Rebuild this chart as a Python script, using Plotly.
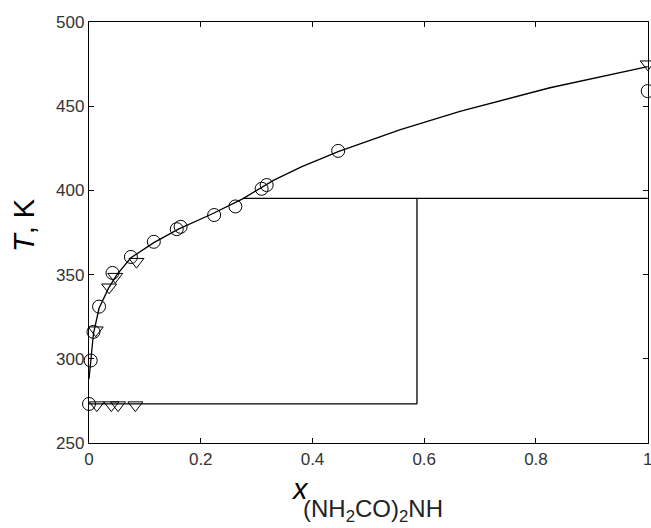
import plotly.graph_objects as go

# Liquidus curve
curve_x = [0.0, 0.003, 0.008, 0.018, 0.035, 0.05, 0.075, 0.116, 0.16, 0.22, 0.275, 0.33, 0.38, 0.446, 0.556, 0.664, 0.825, 1.0]
curve_T = [288, 299, 315, 330, 342, 350, 360, 369, 377, 386, 395, 406, 414, 423, 436, 447, 461, 473.5]

# Experimental points: circles
circ_x = [0.0, 0.003, 0.008, 0.018, 0.042, 0.075, 0.116, 0.157, 0.164, 0.224, 0.262, 0.309, 0.318, 0.446, 1.0]
circ_T = [273.2, 299, 316, 331, 351, 360.5, 369.5, 377, 378.4, 385.4, 390.5, 401, 403.2, 423.5, 459]

# Experimental points: triangles
tri_x = [0.014, 0.04, 0.052, 0.083, 0.012, 0.036, 0.047, 0.085, 1.0]
tri_T = [272.5, 272.5, 272.5, 272.5, 317, 342.5, 348.8, 357.7, 475]

# Invariant lines
eut_low_x = [0.0, 0.587]
eut_low_T = [273.2, 273.2]
vert_x = [0.587, 0.587]
vert_T = [273.2, 395.3]
eut_up_x = [0.275, 1.0]
eut_up_T = [395.3, 395.3]

xticks = [0, 0.2, 0.4, 0.6, 0.8, 1]
xticklabels = ["0", "0.2", "0.4", "0.6", "0.8", "1"]
yticks = [250, 300, 350, 400, 450, 500]

fig = go.Figure()
line_style = dict(color="black", width=1.3)
for xs, ts in [(curve_x, curve_T), (eut_low_x, eut_low_T), (vert_x, vert_T), (eut_up_x, eut_up_T)]:
    fig.add_trace(go.Scatter(x=xs, y=ts, mode="lines", line=line_style, showlegend=False, cliponaxis=False,
                             hoverinfo="skip"))

fig.add_trace(go.Scatter(x=circ_x, y=circ_T, mode="markers", showlegend=False, cliponaxis=False,
                         marker=dict(symbol="circle-open", size=13, color="black", line=dict(width=1))))
fig.add_trace(go.Scatter(x=tri_x, y=tri_T, mode="markers", showlegend=False, cliponaxis=False,
                         marker=dict(symbol="triangle-down-open", size=13, color="black", line=dict(width=1))))

tickfont = dict(family="Liberation Sans Narrow, Liberation Sans, Arial", size=17, color="#333")
axis_common = dict(showline=True, linecolor="black", linewidth=1.3, mirror="ticks", ticks="inside",
                   ticklen=5, tickcolor="black", showgrid=False, zeroline=False, tickfont=tickfont,
                   automargin=False, ticklabeloverflow="allow")

fig.update_xaxes(range=[0, 1.0005], tickvals=xticks, ticktext=xticklabels, **axis_common)
fig.update_yaxes(range=[250, 500.05], tickvals=yticks, **axis_common)

title_font = "Liberation Sans, Arial"
fig.add_annotation(text="<i>T</i>, K", textangle=-90, xref="paper", yref="paper",
                   x=-0.1163, y=0.5178, xanchor="center", yanchor="middle", showarrow=False,
                   font=dict(family=title_font, size=29, color="black"))
fig.add_annotation(text="<i>x</i>", xref="paper", yref="paper",
                   x=0.3775, y=-0.1093, xanchor="center", yanchor="middle", showarrow=False,
                   font=dict(family=title_font, size=29, color="black"))
fig.add_annotation(text="(NH<sub>2</sub>CO)<sub>2</sub>NH", xref="paper", yref="paper",
                   x=0.3792, y=-0.1615, xanchor="left", yanchor="middle", showarrow=False,
                   font=dict(family=title_font, size=24, color="#222"))

fig.update_layout(width=651, height=528, plot_bgcolor="white", paper_bgcolor="white",
                  margin=dict(l=89, r=3, t=22, b=85))

# remove the default page margin so the figure fills the 651x528 window exactly
fig.write_html("out.html", config={"displayModeBar": False},
               post_script="document.body.style.margin='0';document.documentElement.style.overflow='hidden';")
